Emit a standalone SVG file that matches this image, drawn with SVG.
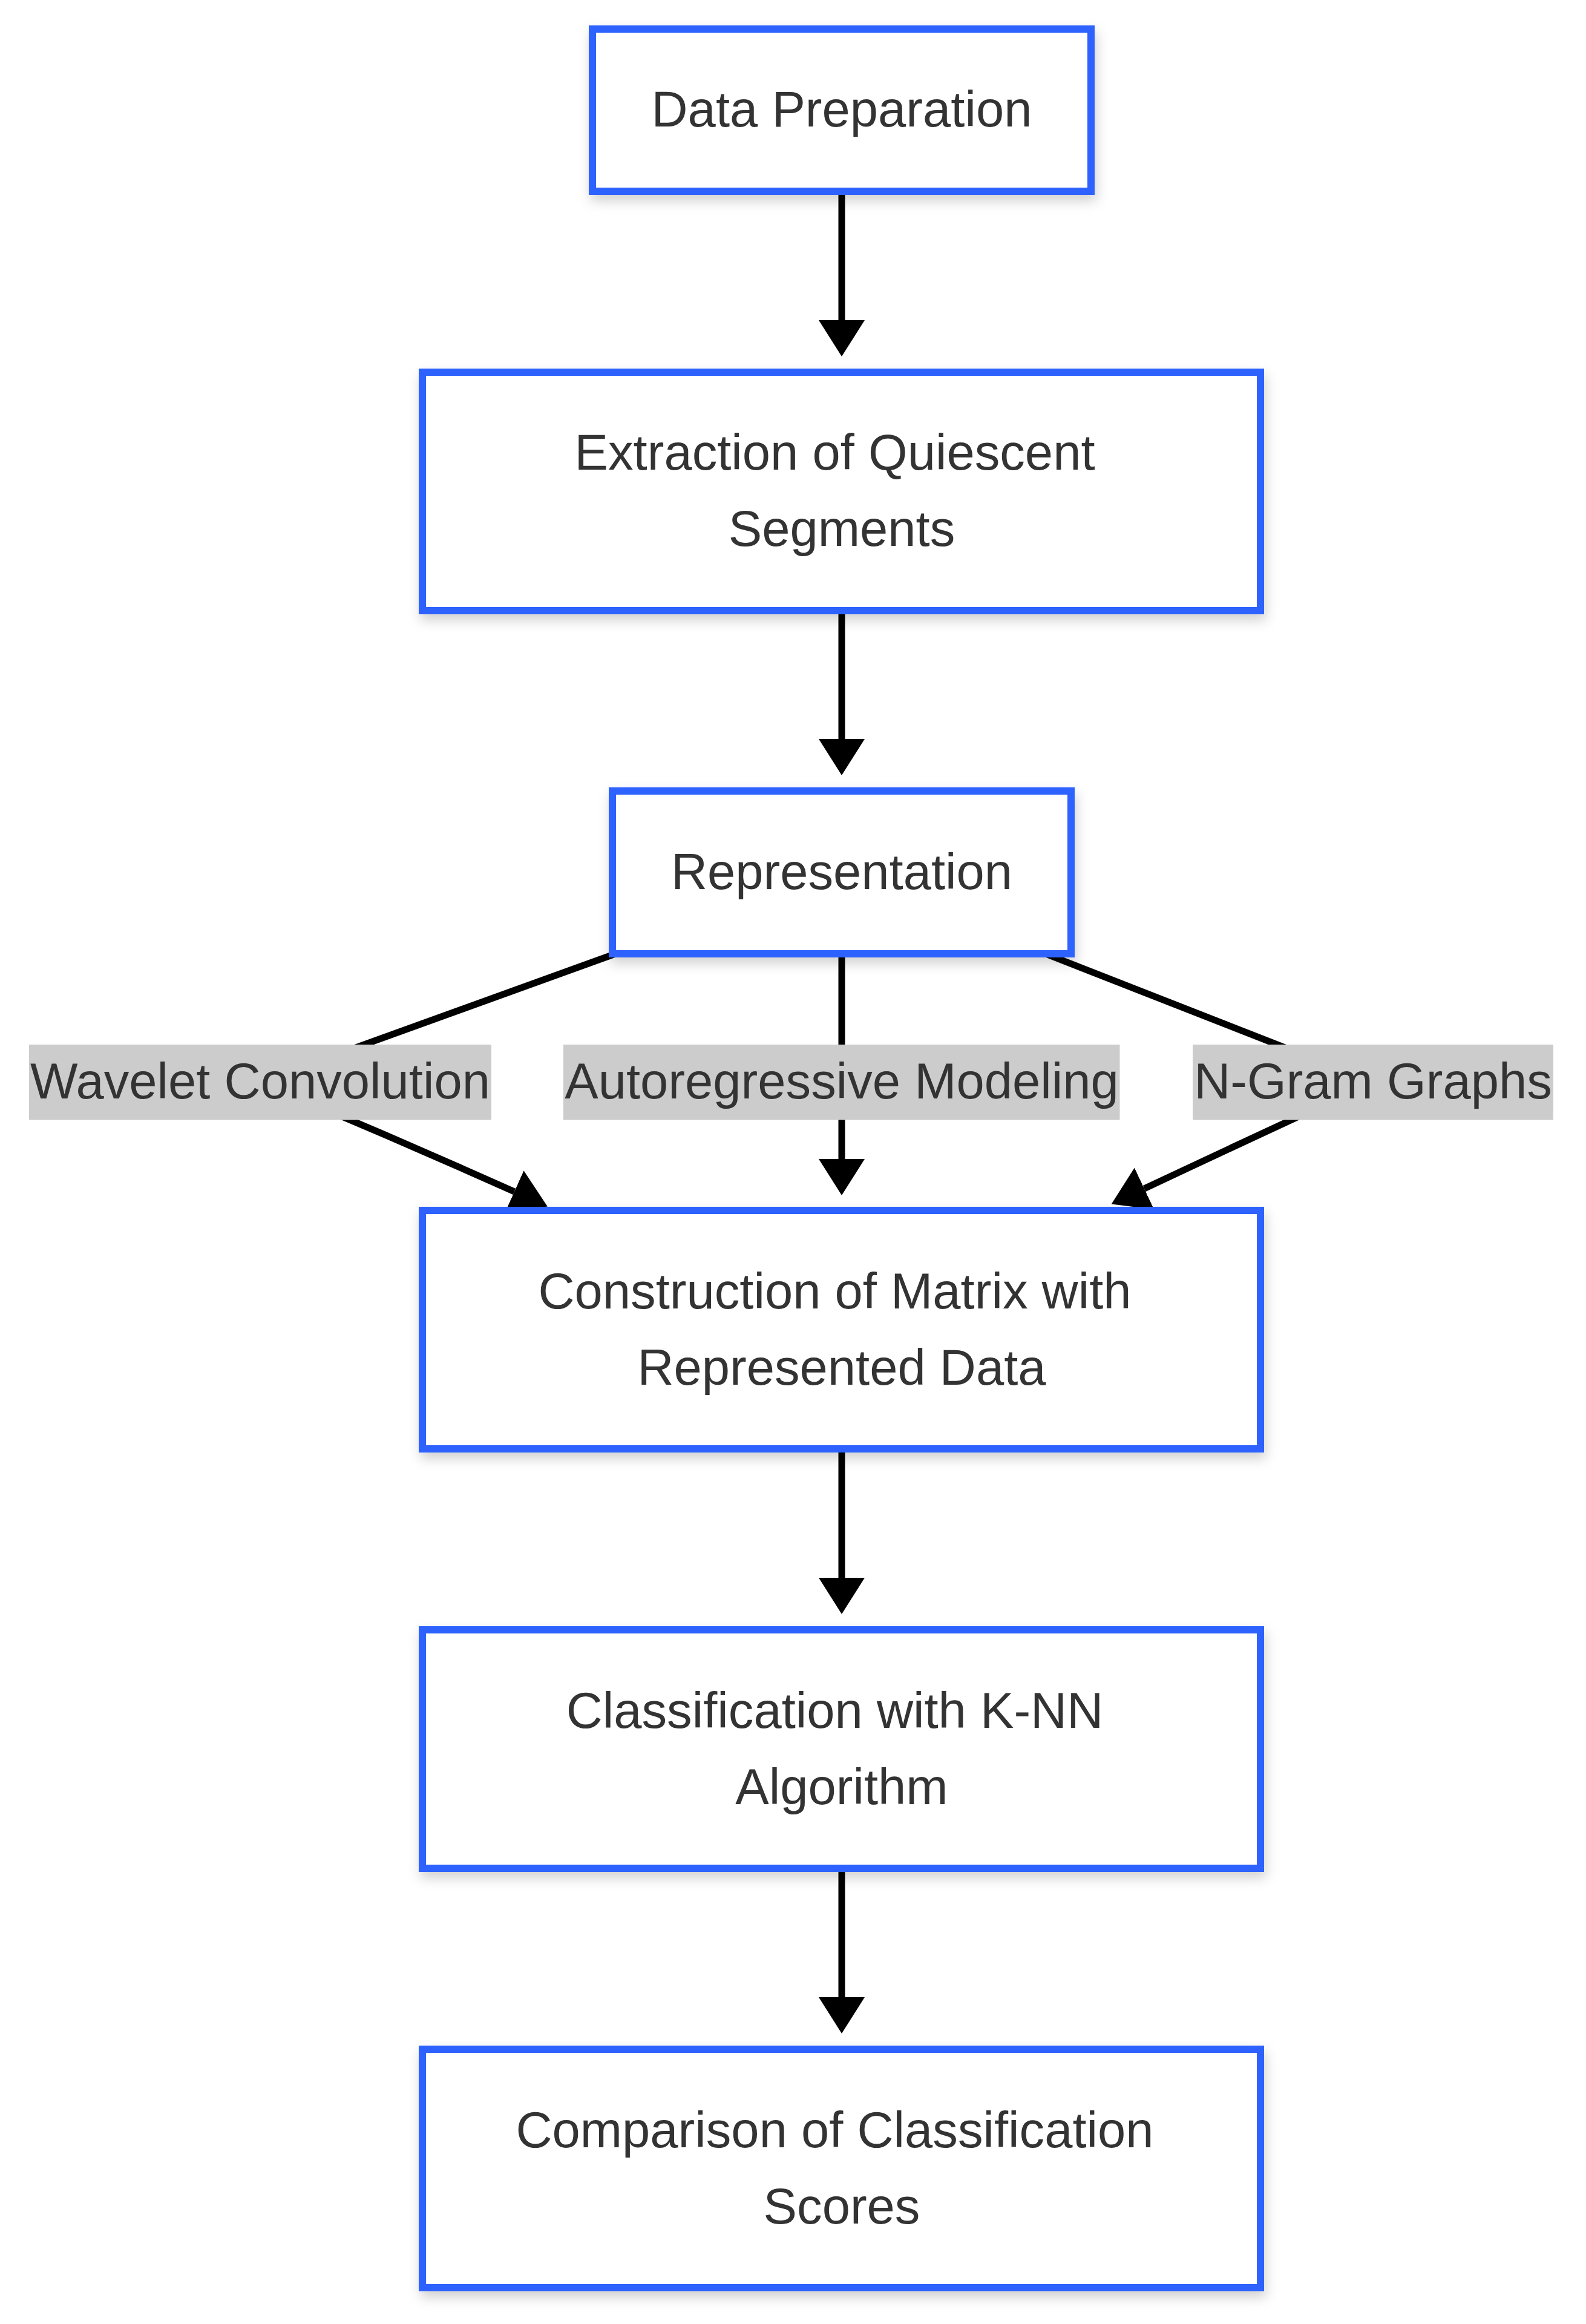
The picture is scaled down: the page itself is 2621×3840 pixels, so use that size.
<svg xmlns="http://www.w3.org/2000/svg" width="2621" height="3840" viewBox="0 0 2621 3840">
  <style>
    .node rect { fill: #ffffff; stroke: #2f62ff; stroke-width: 12; filter: url(#shadow); }
    .node text { font-family: "Liberation Sans", Arial, sans-serif; font-size: 83.2px; fill: #333333; text-anchor: middle; }
    .edge { fill: none; stroke: #000000; stroke-width: 11; marker-end: url(#arrow); }
    .elabel rect { fill: #cccccc; }
    .elabel text { font-family: "Liberation Sans", Arial, sans-serif; font-size: 83.2px; fill: #333333; text-anchor: middle; }
  </style>
  <defs>
    <marker id="arrow" markerUnits="userSpaceOnUse" viewBox="0 0 60 76" markerWidth="60" markerHeight="76" refX="0" refY="38" orient="auto">
      <path d="M0,0 L60,38 L0,76 z" fill="#000000"/>
    </marker>
    <filter id="shadow" x="-10%" y="-20%" width="120%" height="150%">
      <feDropShadow dx="3" dy="10" stdDeviation="10" flood-color="#000000" flood-opacity="0.18"/>
    </filter>
  </defs>
  <rect x="0" y="0" width="2621" height="3840" fill="#ffffff"/>

  <g id="connectors">
    <path class="edge" d="M1391,316 L1391,529"/>
    <path class="edge" d="M1391,1009 L1391,1221"/>
    <path class="edge" d="M1017,1576 L430,1788 Q640,1875 850,1969"/>
    <path class="edge" d="M1391,1576 L1391,1915"/>
    <path class="edge" d="M1728,1576 L2269,1788 Q2080,1875 1891,1964"/>
    <path class="edge" d="M1391,2394 L1391,2607"/>
    <path class="edge" d="M1391,3087 L1391,3300"/>
  </g>

  <g id="edge-labels">
    <g class="elabel" id="label-wavelet">
      <rect x="48" y="1726" width="764" height="124.5"/>
      <text x="430" y="1815">Wavelet Convolution</text>
    </g>
    <g class="elabel" id="label-autoregressive">
      <rect x="931" y="1726" width="919.5" height="124.5"/>
      <text x="1391" y="1815">Autoregressive Modeling</text>
    </g>
    <g class="elabel" id="label-ngram">
      <rect x="1971" y="1726" width="596" height="124.5"/>
      <text x="2269" y="1815">N-Gram Graphs</text>
    </g>
  </g>

  <g id="node-data-preparation" class="node">
    <rect x="979" y="48" width="824" height="268"/>
    <text x="1391" y="209">Data Preparation</text>
  </g>
  <g id="node-extraction" class="node">
    <rect x="698" y="615" width="1385" height="394"/>
    <text x="1379.5" y="776">Extraction of Quiescent</text>
    <text x="1391" y="902">Segments</text>
  </g>
  <g id="node-representation" class="node">
    <rect x="1012" y="1307" width="758" height="269"/>
    <text x="1391" y="1469">Representation</text>
  </g>
  <g id="node-construction" class="node">
    <rect x="698" y="2000" width="1385" height="394"/>
    <text x="1379.5" y="2162">Construction of Matrix with</text>
    <text x="1391" y="2288">Represented Data</text>
  </g>
  <g id="node-classification" class="node">
    <rect x="698" y="2693" width="1385" height="394"/>
    <text x="1379.5" y="2855">Classification with K-NN</text>
    <text x="1391" y="2981">Algorithm</text>
  </g>
  <g id="node-comparison" class="node">
    <rect x="698" y="3386" width="1385" height="394"/>
    <text x="1379.5" y="3548">Comparison of Classification</text>
    <text x="1391" y="3674">Scores</text>
  </g>
</svg>
